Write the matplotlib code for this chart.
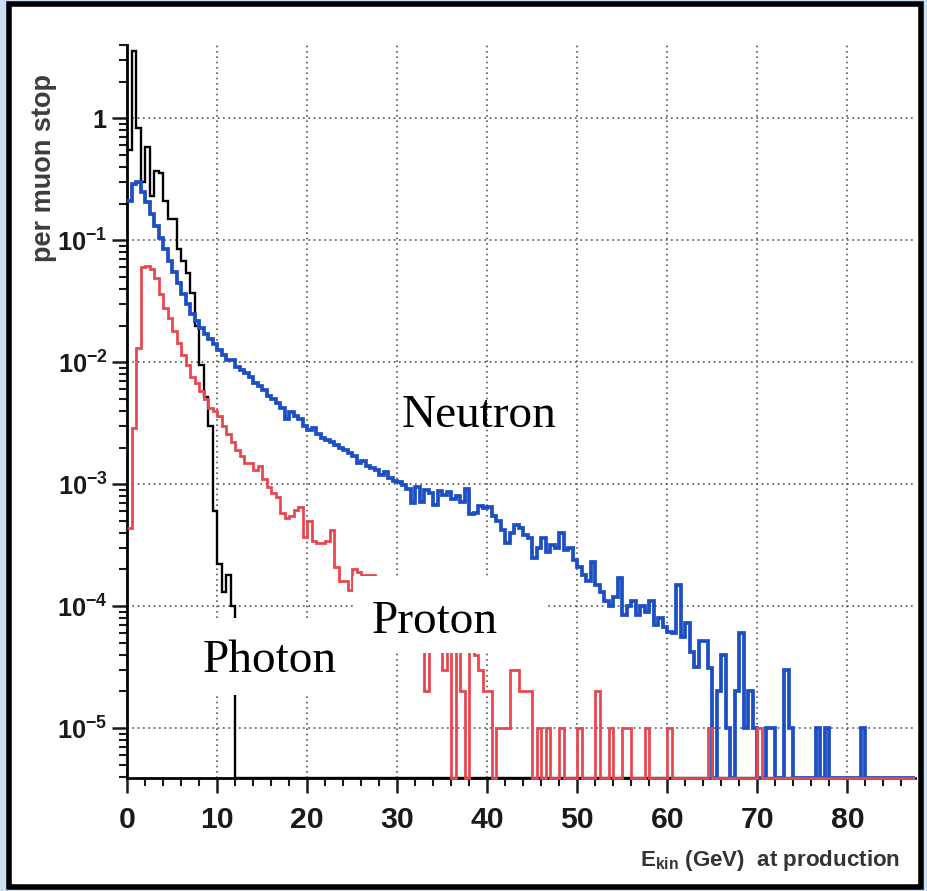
import numpy as np
import matplotlib
matplotlib.use("Agg")
import matplotlib.pyplot as plt
from matplotlib.patches import Rectangle
from matplotlib.ticker import FixedLocator, FixedFormatter, NullFormatter
from matplotlib import font_manager

# ---------------- data (per 0.5 GeV bin, 0 .. 87.5 GeV) ----------------
bin_width_gev = 0.5
n_bins = 175

photon = [
    0.55, 3.6, 0.83, 0.30, 0.58, 0.23, 0.37, 0.36, 0.21, 0.15,          # 0-5
    0.15, 0.085, 0.068, 0.054, 0.037, 0.020, 0.0095, 0.0052, 0.0030, 0.0006,  # 5-10
    0.00022, 0.00013, 0.00018, 0.00010, 0, 0, 0, 0, 0, 0,              # 10-15
    0, 0, 0, 0, 0, 0, 0, 0, 0, 0,
    0, 0, 0, 0, 0, 0, 0, 0, 0, 0,
    0, 0, 0, 0, 0, 0, 0, 0, 0, 0,
    0, 0, 0, 0, 0, 0, 0, 0, 0, 0,
    0, 0, 0, 0, 0, 0, 0, 0, 0, 0,
    0, 0, 0, 0, 0, 0, 0, 0, 0, 0,
    0, 0, 0, 0, 0, 0, 0, 0, 0, 0,
    0, 0, 0, 0, 0, 0, 0, 0, 0, 0,
    0, 0, 0, 0, 0, 0, 0, 0, 0, 0,
    0, 0, 0, 0, 0, 0, 0, 0, 0, 0,
    0, 0, 0, 0, 0, 0, 0, 0, 0, 0,
    0, 0, 0, 0, 0, 0, 0, 0, 0, 0,
    0, 0, 0, 0, 0, 0, 0, 0, 0, 0,
    0, 0, 0, 0, 0, 0, 0, 0, 0, 0,
    0, 0, 0, 0, 0,
]

neutron = [
    0.21, 0.29, 0.30, 0.25, 0.205, 0.165, 0.13, 0.105, 0.085, 0.068,                  # 0-5
    0.055, 0.045, 0.036, 0.030, 0.025, 0.022, 0.019, 0.017, 0.0155, 0.014,            # 5-10
    0.0125, 0.0115, 0.0105, 0.0104, 0.0092, 0.0086, 0.0082, 0.0076, 0.0068, 0.0064,   # 10-15
    0.0059, 0.0053, 0.0050, 0.0046, 0.0042, 0.0034, 0.0039, 0.0036, 0.0034, 0.0030,   # 15-20
    0.0028, 0.0029, 0.0026, 0.0024, 0.0023, 0.0022, 0.0021, 0.0020, 0.0019, 0.0018,   # 20-25
    0.0017, 0.0015, 0.00155, 0.0014, 0.00135, 0.0013, 0.0012, 0.00125, 0.00112, 0.00106,  # 25-30
    0.00104, 0.00098, 0.00092, 0.00070, 0.00095, 0.00072, 0.00090, 0.00085, 0.00068, 0.00088,  # 30-35
    0.00082, 0.00086, 0.00075, 0.00080, 0.00072, 0.00092, 0.00057, 0.00058, 0.00066, 0.00064,  # 35-40
    0.00065, 0.00055, 0.00050, 0.00042, 0.00033, 0.00040, 0.00046, 0.00044, 0.00038, 0.00036,  # 40-45
    0.00025, 0.00030, 0.00036, 0.00028, 0.00032, 0.00030, 0.00040, 0.00029, 0.00030, 0.00024,  # 45-50
    0.00021, 0.00018, 0.00016, 0.00023, 0.00015, 0.00013, 0.00011, 0.00010, 0.00012, 0.00017,  # 50-55
    8.5e-5, 1.0e-4, 1.1e-4, 8.5e-5, 1.0e-4, 9.0e-5, 1.1e-4, 7.0e-5, 8.0e-5, 6.8e-5,   # 55-60
    6.2e-5, 6.0e-5, 1.5e-4, 5.6e-5, 7.3e-5, 4.2e-5, 3.2e-5, 5.2e-5, 5.2e-5, 3.1e-5,   # 60-65
    0, 2e-5, 4e-5, 1e-5, 0, 2e-5, 6e-5, 1e-5, 2e-5, 1e-5,                             # 65-70
    0, 0, 1e-5, 1e-5, 0, 0, 3e-5, 1e-5, 0, 0,                                         # 70-75
    0, 0, 0, 1e-5, 0, 1e-5, 0, 0, 0, 0,                                               # 75-80
    0, 0, 0, 1e-5, 0, 0, 0, 0, 0, 0,                                                  # 80-85
    0, 0, 0, 0, 0,                                                                    # 85-87.5
]

proton = [
    4.4e-4, 2.9e-3, 1.3e-2, 6.0e-2, 6.2e-2, 5.8e-2, 4.9e-2, 3.6e-2, 2.8e-2, 2.3e-2,   # 0-5
    0.018, 0.0145, 0.0115, 0.0095, 0.0076, 0.0068, 0.0058, 0.0050, 0.0042, 0.0040,    # 5-10
    0.0036, 0.0030, 0.0026, 0.0022, 0.0019, 0.0017, 0.0015, 0.0015, 0.0013, 0.0014,   # 10-15
    0.0011, 0.00095, 0.00085, 0.00079, 0.00058, 0.00053, 0.00055, 0.00062, 0.00065, 0.00037,  # 15-20
    0.00050, 0.00034, 0.00033, 0.00033, 0.00034, 0.00042, 0.00021, 0.00016, 0.00016, 0.000135,  # 20-25
    0.00020, 0.00019, 0.00018, 0.00018, 0.00018, 0.00015, 0.00012, 0.00014, 0.00010, 0.00011,  # 25-30
    8e-5, 1.0e-4, 7e-5, 8e-5, 6e-5, 7e-5, 2e-5, 5e-5, 6e-5, 5e-5,                     # 30-35
    3e-5, 6e-5, 0, 5e-5, 2e-5, 0, 5e-5, 4e-5, 3e-5, 2e-5,                             # 35-40
    2e-5, 0, 1e-5, 1e-5, 1e-5, 3e-5, 3e-5, 2e-5, 2e-5, 2e-5,                          # 40-45
    0, 1e-5, 0, 1e-5, 0, 0, 1e-5, 0, 0, 0,                                            # 45-50
    1e-5, 0, 0, 0, 2e-5, 0, 0, 1e-5, 0, 0,                                            # 50-55
    1e-5, 1e-5, 0, 0, 0, 1e-5, 0, 0, 0, 0,                                            # 55-60
    1e-5, 0, 0, 0, 0, 0, 0, 0, 0, 1e-5,                                               # 60-65
    0, 0, 0, 0, 0, 0, 0, 0, 0, 0,                                                     # 65-70
    1e-5, 0, 0, 0, 0, 0, 0, 0, 0, 0,                                                  # 70-75
    0, 0, 0, 0, 0, 0, 0, 0, 0, 0,                                                     # 75-80
    0, 0, 0, 0, 0, 0, 0, 0, 0, 0,                                                     # 80-85
    0, 0, 0, 0, 0,                                                                    # 85-87.5
]

x_ticks = [0, 10, 20, 30, 40, 50, 60, 70, 80]
y_ticks = [1e-5, 1e-4, 1e-3, 1e-2, 1e-1, 1]
y_tick_labels = [r"$10^{-5}$", r"$10^{-4}$", r"$10^{-3}$", r"$10^{-2}$", r"$10^{-1}$", r"$1$"]
series_labels = ["Neutron", "Proton", "Photon"]

# ---------------- fonts ----------------
names = {f.name for f in font_manager.fontManager.ttflist}
has_narrow = "Liberation Sans Narrow" in names
sans = "Liberation Sans Narrow" if has_narrow else "Liberation Sans"
k = 1.0 if has_narrow else 0.85   # shrink wide fallback to keep text widths
plt.rcParams["font.family"] = [sans, "DejaVu Sans"]
plt.rcParams["mathtext.fontset"] = "custom"
plt.rcParams["mathtext.rm"] = f"{sans}:bold"
plt.rcParams["mathtext.bf"] = f"{sans}:bold"
plt.rcParams["mathtext.it"] = f"{sans}:bold"
plt.rcParams["mathtext.default"] = "rm"

# ---------------- figure ----------------
W, H = 928, 891
fig = plt.figure(figsize=(W / 100, H / 100), dpi=100, facecolor="#cddff2")
frame = Rectangle((9 / W, 4 / H), (W - 16) / W, (H - 8) / H,
                  transform=fig.transFigure, facecolor="white",
                  edgecolor="black", linewidth=4, zorder=-10)
fig.patches.append(frame)

L, R, T, B = 127, 915, 45, 778
ax = fig.add_axes([L / W, 1 - B / H, (R - L) / W, (B - T) / H])
ax.set_zorder(5)
ax.set_facecolor("none")

YMIN, YMAX = 3.9e-6, 4.0
edges = np.arange(n_bins + 1) * bin_width_gev


def floor(v):
    v = np.asarray(v, dtype=float)
    return np.where(v > 0, v, YMIN)


ax.stairs(floor(photon), edges, baseline=None, color="black", lw=1.7, zorder=3, clip_on=False)
ax.stairs(floor(neutron), edges, baseline=None, color="#1c4fc4", lw=2.7, zorder=4, clip_on=False)
ax.stairs(floor(proton), edges, baseline=None, color="#e8474f", lw=2.0, zorder=5, clip_on=False)

ax.set_yscale("log")
ax.set_xlim(0, edges[-1])
ax.set_ylim(YMIN, YMAX)

ax.xaxis.set_major_locator(FixedLocator(x_ticks))
ax.xaxis.set_minor_locator(FixedLocator([v for v in np.arange(0, 88, 2) if v % 10 != 0]))
ax.yaxis.set_major_locator(FixedLocator(y_ticks))
ax.yaxis.set_major_formatter(FixedFormatter(y_tick_labels))
minor_y = [m * 10.0 ** e for e in range(-6, 1) for m in range(2, 10)]
ax.yaxis.set_minor_locator(FixedLocator([v for v in minor_y if YMIN <= v <= YMAX]))
ax.yaxis.set_minor_formatter(NullFormatter())

for s in ["top", "right"]:
    ax.spines[s].set_visible(False)
for s in ["left", "bottom"]:
    ax.spines[s].set_linewidth(2.0)
    ax.spines[s].set_zorder(2)

ax.tick_params(axis="both", which="major", direction="out", length=11, width=1.8,
               colors="#1a1a1a")
ax.tick_params(axis="both", which="minor", direction="out", length=6, width=1.5, colors="#1a1a1a")
ax.tick_params(axis="x", which="major", pad=9, labelsize=25.5 * k)
ax.tick_params(axis="y", which="major", pad=3, labelsize=21.5 * k)
for lab in ax.get_xticklabels():
    lab.set_fontweight("bold")

ax.grid(which="major", linestyle=(0, (1, 2.2)), color="#555555", linewidth=1.2, zorder=1)

# label boxes (white) and series names
ax.add_patch(Rectangle((0.2868, 0.1705), 0.2462, 0.1051, transform=ax.transAxes,
                       facecolor="white", edgecolor="none", zorder=6, clip_on=False))
ax.add_patch(Rectangle((0.0863, 0.1132), 0.1903, 0.1051, transform=ax.transAxes,
                       facecolor="white", edgecolor="none", zorder=6, clip_on=False))

serif = ["Liberation Serif", "DejaVu Serif"]
ax.text(0.349, 0.479, series_labels[0], transform=ax.transAxes, family=serif,
        fontsize=34, va="baseline", ha="left", color="black", zorder=7)
ax.text(0.311, 0.198, series_labels[1], transform=ax.transAxes, family=serif,
        fontsize=34, va="baseline", ha="left", color="black", zorder=7)
ax.text(0.0964, 0.1446, series_labels[2], transform=ax.transAxes, family=serif,
        fontsize=34, va="baseline", ha="left", color="black", zorder=7)

fig.text(44 / W, 1 - 168 / H, "per muon stop", rotation=90, ha="center", va="center",
         family=["Liberation Sans", "DejaVu Sans"], fontweight="bold", fontsize=19.5,
         color="#3c3c3c")
fig.text(900 / W, 1 - 866 / H, r"E$_{\mathrm{kin}}$ (GeV)  at production", ha="right",
         va="baseline", fontweight="bold", fontsize=19 * k, color="#333333")

fig.savefig("out.png", dpi=100, facecolor=fig.get_facecolor())
